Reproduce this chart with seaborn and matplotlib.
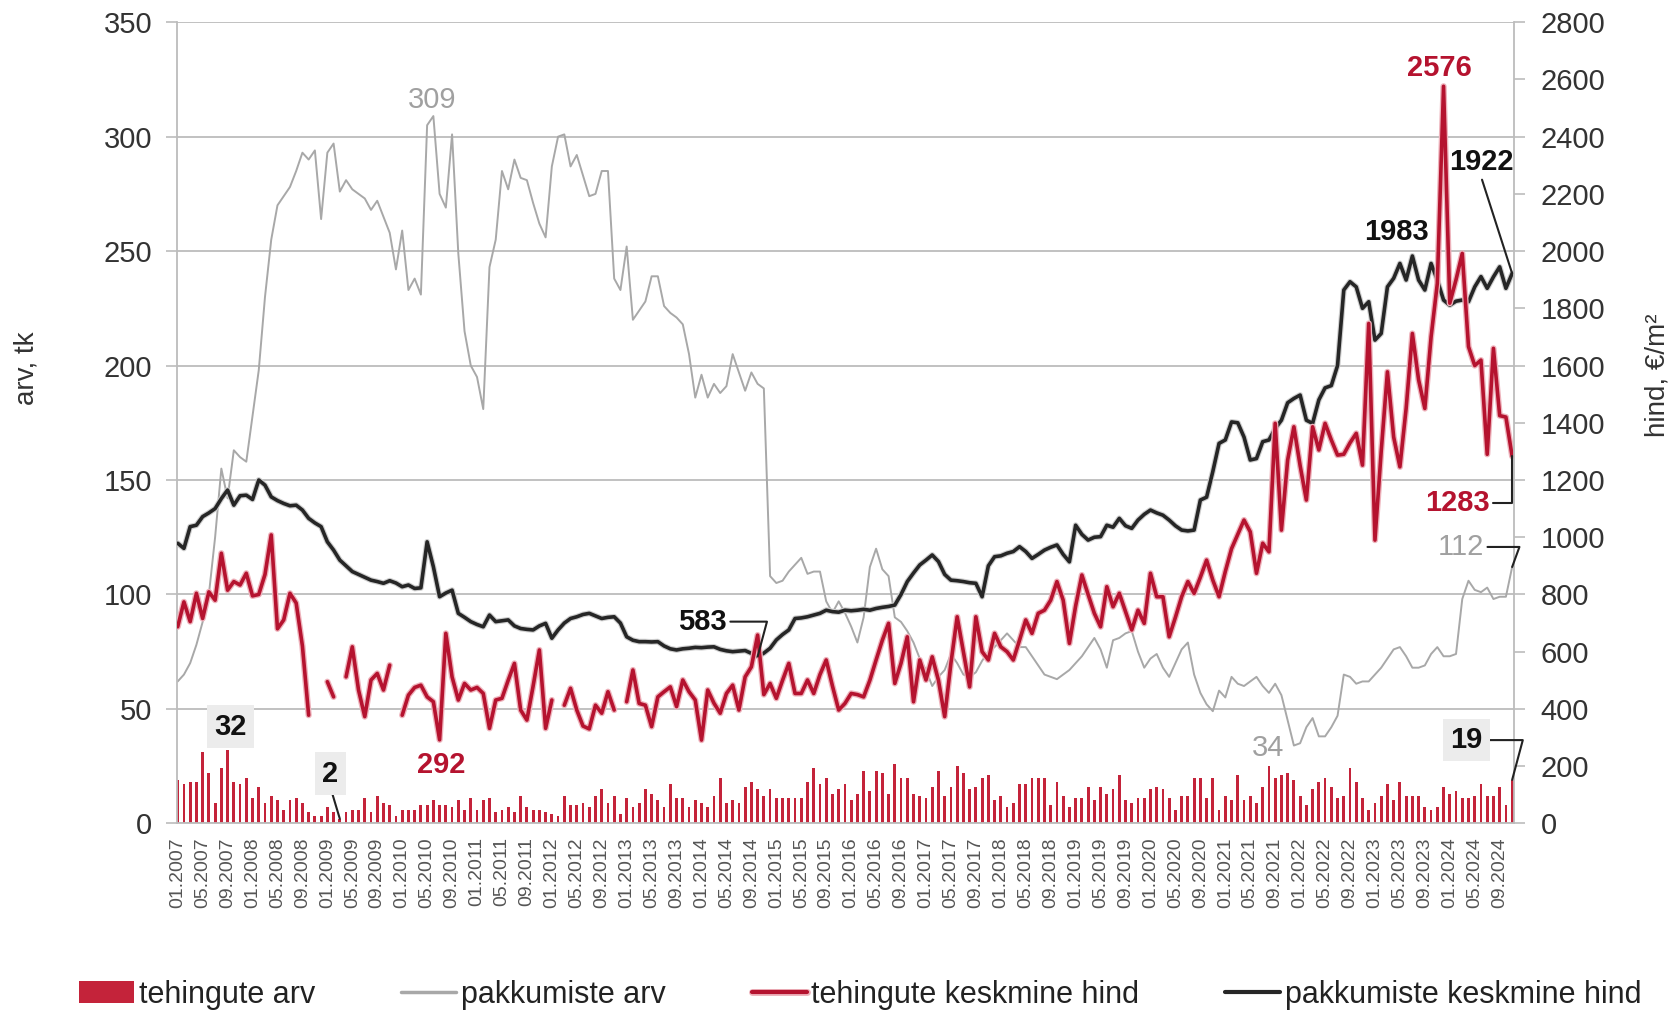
import numpy as np
import pandas as pd
import seaborn as sns
import matplotlib
matplotlib.use("Agg")
import matplotlib.pyplot as plt
import matplotlib.patheffects as pe
from matplotlib.lines import Line2D
from matplotlib.patches import Patch

nan = np.nan

# monthly data 01.2007 - 11.2024
months = pd.date_range("2007-01-01", periods=215, freq="MS")
tick_labels = list(months[::4].strftime("%m.%Y"))

# tehingute arv (left axis)
deals = [
    19, 17, 18, 18, 31, 22, 9, 24, 32, 18, 17, 20,
    11, 16, 9, 12, 10, 6, 10, 11, 9, 5, 3, 3,
    7, 5, 2, 5, 6, 6, 11, 5, 12, 9, 8, 3,
    6, 6, 6, 8, 8, 10, 8, 8, 7, 10, 6, 11,
    6, 10, 11, 5, 6, 7, 5, 12, 7, 6, 6, 5,
    4, 3, 12, 8, 8, 9, 7, 12, 15, 9, 12, 4,
    11, 7, 9, 15, 13, 10, 7, 17, 11, 11, 7, 10,
    9, 7, 12, 20, 9, 10, 9, 16, 18, 15, 12, 15,
    11, 11, 11, 11, 11, 18, 24, 17, 20, 13, 15, 17,
    10, 13, 23, 14, 23, 22, 13, 26, 20, 20, 13, 12,
    11, 16, 23, 12, 16, 25, 22, 15, 16, 20, 21, 10,
    12, 7, 9, 17, 17, 20, 20, 20, 8, 18, 12, 7,
    11, 11, 16, 10, 16, 13, 15, 21, 10, 9, 11, 11,
    15, 16, 15, 11, 6, 12, 12, 20, 20, 11, 20, 6,
    12, 10, 21, 10, 12, 9, 16, 25, 20, 21, 22, 19,
    12, 8, 15, 18, 20, 16, 11, 12, 24, 18, 11, 6,
    9, 12, 17, 10, 18, 12, 12, 12, 7, 6, 7, 16,
    13, 14, 11, 11, 12, 17, 12, 12, 16, 8, 19,
]

# pakkumiste arv (left axis)
offers = [
    62, 65, 70, 78, 88, 100, 125, 155, 142, 163, 160, 158,
    178, 198, 230, 255, 270, 274, 278, 285, 293, 290, 294, 264,
    293, 297, 276, 281, 277, 275, 273, 268, 272, 265, 258, 242,
    259, 233, 238, 231, 305, 309, 275, 269, 301, 249, 215, 200,
    195, 181, 243, 255, 285, 277, 290, 282, 281, 271, 262, 256,
    287, 300, 301, 287, 292, 283, 274, 275, 285, 285, 238, 233,
    252, 220, 224, 228, 239, 239, 226, 223, 221, 218, 205, 186,
    196, 186, 192, 188, 191, 205, 197, 189, 197, 192, 190, 108,
    105, 106, 110, 113, 116, 109, 110, 110, 97, 92, 97, 92,
    86, 79, 90, 112, 120, 111, 108, 90, 88, 84, 79, 72,
    67, 60, 64, 67, 74, 70, 65, 64, 66, 71, 75, 77,
    80, 83, 80, 77, 77, 73, 69, 65, 64, 63, 65, 67,
    70, 73, 77, 81, 76, 68, 80, 81, 83, 84, 75, 68,
    72, 74, 68, 64, 70, 76, 79, 65, 57, 52, 49, 58,
    55, 64, 61, 60, 62, 64, 60, 57, 61, 56, 45, 34,
    35, 42, 46, 38, 38, 42, 47, 65, 64, 61, 62, 62,
    65, 68, 72, 76, 77, 73, 68, 68, 69, 74, 77, 73,
    73, 74, 98, 106, 102, 101, 103, 98, 99, 99, 112,
]

# tehingute keskmine hind, EUR/m2 (right axis)
deal_price = [
    687, 774, 705, 804, 716, 809, 780, 944, 815, 845, 833, 874,
    795, 800, 870, 1008, 680, 711, 804, 770, 620, 378, nan, nan,
    495, 442, nan, 512, 617, 466, 373, 501, 524, 466, 553, nan,
    378, 448, 475, 483, 442, 425, 292, 664, 512, 431, 489, 466,
    475, 454, 332, 431, 437, 500, 559, 396, 361, 480, 606, 332,
    431, nan, 413, 472, 396, 340, 330, 413, 385, 460, 396, nan,
    425, 536, 419, 413, 338, 442, 460, 477, 408, 501, 460, 431,
    291, 466, 420, 385, 454, 483, 396, 512, 547, 658, 450, 489,
    437, 500, 559, 454, 454, 501, 454, 520, 571, 480, 396, 419,
    454, 450, 442, 500, 571, 640, 699, 489, 560, 652, 425, 571,
    501, 582, 500, 373, 560, 722, 600, 477, 722, 600, 571, 664,
    617, 600, 571, 640, 711, 664, 734, 745, 780, 845, 780, 629,
    760, 868, 800, 734, 687, 827, 757, 804, 740, 676, 745, 699,
    874, 792, 792, 652, 720, 792, 845, 804, 860, 920, 850, 792,
    880, 960, 1010, 1060, 1019, 874, 979, 949, 1398, 1025, 1270, 1386,
    1250, 1130, 1386, 1305, 1398, 1340, 1287, 1290, 1330, 1363, 1252, 1747,
    990, 1300, 1578, 1350, 1246, 1450, 1712, 1550, 1450, 1700, 1887, 2576,
    1818, 1900, 1992, 1666, 1600, 1619, 1290, 1660, 1425, 1420, 1283,
]

# pakkumiste keskmine hind, EUR/m2 (right axis)
offer_price = [
    979, 961, 1037, 1042, 1072, 1085, 1100, 1135, 1165, 1112, 1145, 1147,
    1132, 1200, 1182, 1141, 1128, 1118, 1110, 1112, 1095, 1066, 1050, 1037,
    984, 955, 920, 900, 880, 870, 860, 850, 845, 839, 848, 840,
    827, 833, 821, 823, 984, 897, 792, 805, 815, 734, 720, 705,
    695, 687, 728, 705, 708, 711, 690, 681, 678, 676, 690, 699,
    647, 676, 700, 716, 722, 730, 734, 725, 716, 720, 722, 700,
    652, 640, 635, 635, 634, 635, 620, 610, 606, 610, 612, 615,
    614, 616, 617, 608, 603, 600, 602, 604, 594, 583, 595, 612,
    641, 660, 676, 716, 718, 722, 728, 734, 745, 740, 738, 745,
    743, 745, 748, 745, 751, 755, 758, 763, 800, 845, 875, 903,
    920, 938, 915, 870, 850, 848, 845, 841, 839, 792, 900, 932,
    935, 944, 950, 967, 950, 926, 940, 955, 965, 973, 940, 914,
    1042, 1010, 990, 1000, 1002, 1042, 1035, 1066, 1040, 1031, 1060, 1080,
    1095, 1085, 1077, 1060, 1040, 1025, 1022, 1025, 1130, 1140, 1230, 1328,
    1340, 1403, 1400, 1350, 1270, 1275, 1334, 1340, 1380, 1409, 1470, 1485,
    1497, 1409, 1398, 1480, 1522, 1530, 1600, 1864, 1893, 1875, 1800, 1823,
    1689, 1712, 1875, 1905, 1957, 1899, 1983, 1899, 1864, 1957, 1899, 1829,
    1811, 1825, 1829, 1823, 1875, 1911, 1870, 1910, 1945, 1870, 1922,
]

df = pd.DataFrame({
    "m": np.arange(len(months)),
    "deals": deals,
    "offers": offers,
    "deal_price": deal_price,
    "offer_price": offer_price,
})
# split the deal price line where months are missing
df["seg"] = df["deal_price"].isna().cumsum()

RED = "#b5132f"
BAR_RED = "#c4233a"
GREY = "#a8a8a8"
BLACK = "#262626"
GRID = "#bcbcbc"

sns.set_theme(style="white")
plt.rcParams["font.family"] = ["Liberation Sans", "DejaVu Sans"]

fig = plt.figure(figsize=(16.8, 10.1), dpi=100)
ax = fig.add_axes([0.1054, 0.1848, 0.7958, 0.7932])
ax2 = ax.twinx()

# left axis: counts
sns.barplot(data=df, x="m", y="deals", native_scale=True, width=0.45,
            color=BAR_RED, saturation=1, errorbar=None, linewidth=0, ax=ax)
sns.lineplot(data=df, x="m", y="offers", color=GREY, lw=1.4, ax=ax)

# right axis: prices
sns.lineplot(data=df, x="m", y="offer_price", color=BLACK, lw=2.6, ax=ax2,
             path_effects=[pe.Stroke(linewidth=4.2, foreground="#cfcfcf"), pe.Normal()])
sns.lineplot(data=df, x="m", y="deal_price", units="seg", estimator=None,
             color=RED, lw=2.6, ax=ax2,
             path_effects=[pe.Stroke(linewidth=4.5, foreground="#eeb3bc"), pe.Normal()])

ax.set_xlim(-0.1, 214.3)
ax.set_ylim(0, 350)
ax2.set_ylim(0, 2800)
ax.set_yticks(range(0, 351, 50))
ax2.set_yticks(range(0, 2801, 200))
ax.set_xticks(range(0, len(months), 4))
ax.set_xticklabels(tick_labels, rotation=90, fontsize=14, color="#555555")
ax.set_xlabel("")
ax.set_ylabel("")
ax2.set_ylabel("")

ax.yaxis.grid(True, color=GRID, lw=1.3)
ax.set_axisbelow(True)
ax.tick_params(axis="y", length=8, width=1.2, color=GRID, labelsize=21,
               labelcolor="#333333", pad=10)
ax.tick_params(axis="x", length=0, pad=10)
ax2.tick_params(axis="y", length=8, width=1.2, color=GRID, labelsize=21,
                labelcolor="#333333", pad=11)

for sp in ["top", "right"]:
    ax.spines[sp].set_visible(False)
for sp in ["top", "left", "bottom"]:
    ax2.spines[sp].set_visible(False)
ax.spines["left"].set_color(GRID)
ax.spines["bottom"].set_color(GRID)
ax2.spines["right"].set_color(GRID)
for sp in [ax.spines["left"], ax.spines["bottom"], ax2.spines["right"]]:
    sp.set_linewidth(1.3)

fig.text(27 / 1680, 1 - 368 / 1010, "arv, tk", rotation=90, ha="center",
         va="center", fontsize=20, color="#333333")
fig.text(1658 / 1680, 1 - 375 / 1010, "hind, €/m²", rotation=90, ha="center",
         va="center", fontsize=20, color="#333333")

# value labels
k = 8  # left -> right axis factor
bold = dict(fontsize=21, fontweight="bold", ha="center", va="center")
box = dict(boxstyle="square,pad=0.25", fc="#ececec", ec="none")
lead = dict(arrowstyle="-", color="#222222", lw=1.5, shrinkA=0, shrinkB=0)

ax2.text(40.8, 2528, f"{max(offers)}", color="#a0a0a0", fontsize=21,
         ha="center", va="center")
ax2.text(202.4, 2640, f"{max(d for d in deal_price if d == d)}", color=RED, **bold)
ax2.text(195.4, 2067, f"{max(offer_price)}", color="#111111", **bold)
ax2.text(42.3, 204, "292", color=RED, **bold)
ax2.text(174.9, 262, f"{min(offers)}", color="#a0a0a0", fontsize=21,
         ha="center", va="center")
ax2.text(8.4, 338, f"{max(deals)}", color="#111111", bbox=box, **bold)

ax2.annotate(f"{offer_price[-1]}", xy=(214, offer_price[-1]), xytext=(209, 2310),
             color="#111111", arrowprops=dict(lead, relpos=(0.5, 0)), **bold)
ax2.annotate(f"{min(offer_price)}", xy=(93, offer_price[93]), xytext=(84.2, 705),
             color="#111111",
             arrowprops=dict(lead, relpos=(1, 0.5), connectionstyle="angle,angleA=0,angleB=75,rad=0"),
             **bold)
ax2.annotate(f"{min(deals)}", xy=(26, deals[26] * k), xytext=(24.5, 174),
             color="#111111", bbox=box,
             arrowprops=dict(lead, relpos=(0.5, 0)), **bold)
ax2.annotate(f"{deal_price[-1]}", xy=(214, deal_price[-1]), xytext=(205.2, 1118),
             color=RED,
             arrowprops=dict(lead, relpos=(1, 0.5), connectionstyle="angle,angleA=0,angleB=90,rad=0"),
             **bold)
ax2.annotate(f"{offers[-1]}", xy=(214, offers[-1] * k), xytext=(205.8, 966),
             color="#a0a0a0", fontsize=21, ha="center", va="center",
             arrowprops=dict(lead, relpos=(1, 0.5), connectionstyle="angle,angleA=0,angleB=70,rad=0"))
ax2.annotate(f"{deals[-1]}", xy=(214, deals[-1] * k), xytext=(206.7, 291),
             color="#111111", bbox=box,
             arrowprops=dict(lead, relpos=(1, 0.5), connectionstyle="angle,angleA=0,angleB=75,rad=0"),
             **bold)

# legend
handles = [
    Patch(facecolor=BAR_RED, edgecolor="none"),
    Line2D([], [], color=GREY, lw=2.5),
    Line2D([], [], color=RED, lw=3,
           path_effects=[pe.Stroke(linewidth=5, foreground="#eeb3bc"), pe.Normal()]),
    Line2D([], [], color=BLACK, lw=3),
]
labels = ["tehingute arv", "pakkumiste arv", "tehingute keskmine hind",
          "pakkumiste keskmine hind"]
fig.legend(handles, labels, loc="center", ncol=4, mode="expand",
           bbox_to_anchor=(0.047, 0.005, 0.93, 0.02), frameon=False,
           prop=dict(family=["Liberation Sans Narrow", "Liberation Sans"], size=22),
           handlelength=1.8, handleheight=0.7, handletextpad=0.15,
           borderaxespad=0, borderpad=0, labelcolor="#222222")

fig.savefig("out.png", dpi=100, facecolor="white")
